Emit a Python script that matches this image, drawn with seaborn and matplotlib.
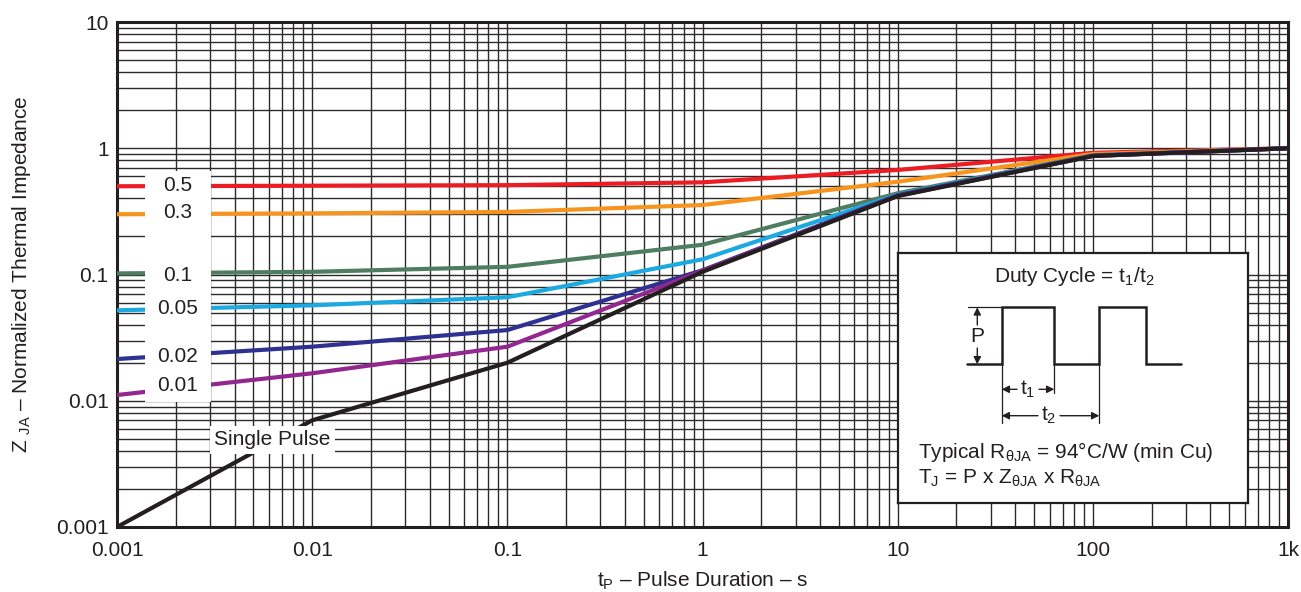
import matplotlib
matplotlib.use("Agg")
import matplotlib.pyplot as plt
import numpy as np
import pandas as pd
import seaborn as sns
from matplotlib.patches import Rectangle
from matplotlib.ticker import FixedLocator, FixedFormatter, LogLocator, NullFormatter

# ---- data -------------------------------------------------------------
# pulse duration nodes (s)
pulse_duration = [0.001, 0.01, 0.1, 1, 10, 100, 1000]

# normalized transient thermal impedance, one list per duty cycle
z_duty_0_5 = [0.500, 0.505, 0.510, 0.537, 0.673, 0.920, 1.0]
z_duty_0_3 = [0.300, 0.305, 0.313, 0.355, 0.543, 0.900, 1.0]
z_duty_0_1 = [0.102, 0.105, 0.115, 0.172, 0.440, 0.880, 1.0]
z_duty_0_05 = [0.052, 0.057, 0.066, 0.132, 0.430, 0.875, 1.0]
z_duty_0_02 = [0.0214, 0.0268, 0.0363, 0.108, 0.425, 0.870, 1.0]
z_duty_0_01 = [0.0111, 0.0165, 0.0268, 0.107, 0.420, 0.870, 1.0]
z_single = [0.001, 0.0070, 0.0200, 0.105, 0.418, 0.868, 1.0]

curve_names = ["0.5", "0.3", "0.1", "0.05", "0.02", "0.01", "Single Pulse"]
curve_values = [z_duty_0_5, z_duty_0_3, z_duty_0_1, z_duty_0_05,
                z_duty_0_02, z_duty_0_01, z_single]

x_ticks = [0.001, 0.01, 0.1, 1, 10, 100, 1000]
x_tick_labels = ["0.001", "0.01", "0.1", "1", "10", "100", "1k"]
y_ticks = [0.001, 0.01, 0.1, 1, 10]
y_tick_labels = ["0.001", "0.01", "0.1", "1", "10"]

# ---- style ------------------------------------------------------------
curve_colors = ["#ED1C24", "#F7941D", "#4E7D62", "#1CA9E1",
                "#2E3192", "#92278F", "#231F20"]
ink = "#231F20"

sns.set_style("white")
plt.rcParams["font.family"] = ["Liberation Sans", "DejaVu Sans"]
plt.rcParams["mathtext.fontset"] = "custom"
plt.rcParams["mathtext.rm"] = "Liberation Sans"
plt.rcParams["mathtext.it"] = "Liberation Sans:italic"
plt.rcParams["mathtext.bf"] = "Liberation Sans:bold"

rows = []
for name, vals in zip(curve_names, curve_values):
    for t, z in zip(pulse_duration, vals):
        rows.append({"t": t, "z": z, "curve": name})
df = pd.DataFrame(rows)

W, H = 1301, 592
fig = plt.figure(figsize=(W / 100, H / 100), dpi=100)
ax_l, ax_r, ax_t, ax_b = 117, 1288, 22, 527
ax = fig.add_axes([ax_l / W, (H - ax_b) / H, (ax_r - ax_l) / W, (ax_b - ax_t) / H])

ax.set_xscale("log")
ax.set_yscale("log")

sns.lineplot(data=df, x="t", y="z", hue="curve", hue_order=curve_names,
             palette=curve_colors, linewidth=3.0, legend=False,
             estimator=None, sort=False, ax=ax, zorder=3)

ax.set_xlim(0.001, 1000)
ax.set_ylim(0.001, 10)

ax.xaxis.set_major_locator(FixedLocator(x_ticks))
ax.xaxis.set_major_formatter(FixedFormatter(x_tick_labels))
ax.yaxis.set_major_locator(FixedLocator(y_ticks))
ax.yaxis.set_major_formatter(FixedFormatter(y_tick_labels))
for axis in (ax.xaxis, ax.yaxis):
    axis.set_minor_locator(LogLocator(base=10, subs=np.arange(2, 10)))
    axis.set_minor_formatter(NullFormatter())

ax.tick_params(which="both", length=0, labelsize=15, colors=ink)
ax.tick_params(axis="x", pad=10)
ax.tick_params(axis="y", pad=6)

ax.set_axisbelow(True)
ax.grid(True, which="both", color="#2b2b2b", linewidth=1.0)
for sp in ax.spines.values():
    sp.set_color(ink)
    sp.set_linewidth(2.2)

ax.set_xlabel(r"t$_{\mathrm{P}}$ – Pulse Duration – s", fontsize=15, color=ink)
ax.set_ylabel(r"Z $_{\mathrm{JA}}$ – Normalized Thermal Impedance", fontsize=15, color=ink)
ax.xaxis.set_label_coords(0.5, -0.085)
ax.yaxis.set_label_coords(-0.072, 0.5)

# white column behind the duty-cycle labels
ax.add_patch(Rectangle((0.00139, 0.0098), 0.00302 - 0.00139, 0.66 - 0.0098,
                       facecolor="white", edgecolor="none", zorder=4))
label_x = 0.00205
label_y = [0.503, 0.309, 0.099, 0.054, 0.0226, 0.0131]
for name, ly in zip(curve_names[:-1], label_y):
    ax.text(label_x, ly, name, ha="center", va="center", fontsize=15,
            color=ink, zorder=5)

# single pulse label
ax.text(0.00627, 0.00489, "Single Pulse", ha="center", va="center",
        fontsize=15, color=ink, zorder=5,
        bbox=dict(facecolor="white", edgecolor="none", pad=3))

# ---- duty-cycle definition box ----------------------------------------
bx_l, bx_t, bx_w, bx_h = 898, 253, 350, 250
ins = fig.add_axes([bx_l / W, (H - bx_t - bx_h) / H, bx_w / W, bx_h / H], zorder=6)
ins.set_xlim(0, bx_w)
ins.set_ylim(bx_h, 0)
ins.set_xticks([])
ins.set_yticks([])
ins.set_facecolor("white")
for sp in ins.spines.values():
    sp.set_color(ink)
    sp.set_linewidth(1.6)

ins.text(176, 24, r"Duty Cycle = t$_{\mathrm{1}}$/t$_{\mathrm{2}}$",
         ha="center", va="center", fontsize=15, color=ink)

low, high = 111.3, 54.3
wave_x = [68.7, 103.7, 103.7, 156.3, 156.3, 201.3, 201.3, 248.0, 248.0, 282.7]
wave_y = [low, low, high, high, low, low, high, high, low, low]
ins.plot(wave_x, wave_y, color=ink, lw=1.8, solid_joinstyle="miter")

# dimension / extension lines
ins.plot([70, 103.7], [high, high], color=ink, lw=0.9)
ins.plot([103.7, 103.7], [low, 170], color=ink, lw=0.9)
ins.plot([156.3, 156.3], [low, 140], color=ink, lw=0.9)
ins.plot([201.3, 201.3], [low, 170], color=ink, lw=0.9)

arrow = dict(arrowstyle="-|>", color=ink, lw=1.0, mutation_scale=11,
             shrinkA=0, shrinkB=0)
# P
ins.annotate("", xy=(79.3, high), xytext=(79.3, 72), arrowprops=arrow)
ins.annotate("", xy=(79.3, low), xytext=(79.3, 95), arrowprops=arrow)
ins.text(79.3, 83, "P", ha="center", va="center", fontsize=15, color=ink)
# t1
ins.annotate("", xy=(103.7, 136.3), xytext=(119, 136.3), arrowprops=arrow)
ins.annotate("", xy=(156.3, 136.3), xytext=(141, 136.3), arrowprops=arrow)
ins.text(129.5, 136.3, r"t$_{\mathrm{1}}$", ha="center", va="center", fontsize=15, color=ink)
# t2
ins.annotate("", xy=(103.7, 162.7), xytext=(140, 162.7), arrowprops=arrow)
ins.annotate("", xy=(201.3, 162.7), xytext=(162, 162.7), arrowprops=arrow)
ins.text(151, 162.7, r"t$_{\mathrm{2}}$", ha="center", va="center", fontsize=15, color=ink)

ins.text(20.3, 198.7, r"Typical R$_{\mathrm{θJA}}$ = 94°C/W (min Cu)",
         ha="left", va="center", fontsize=15, color=ink)
ins.text(20.3, 225.3, r"T$_{\mathrm{J}}$ = P x Z$_{\mathrm{θJA}}$ x R$_{\mathrm{θJA}}$",
         ha="left", va="center", fontsize=15, color=ink)

fig.savefig("out.png", dpi=100)
